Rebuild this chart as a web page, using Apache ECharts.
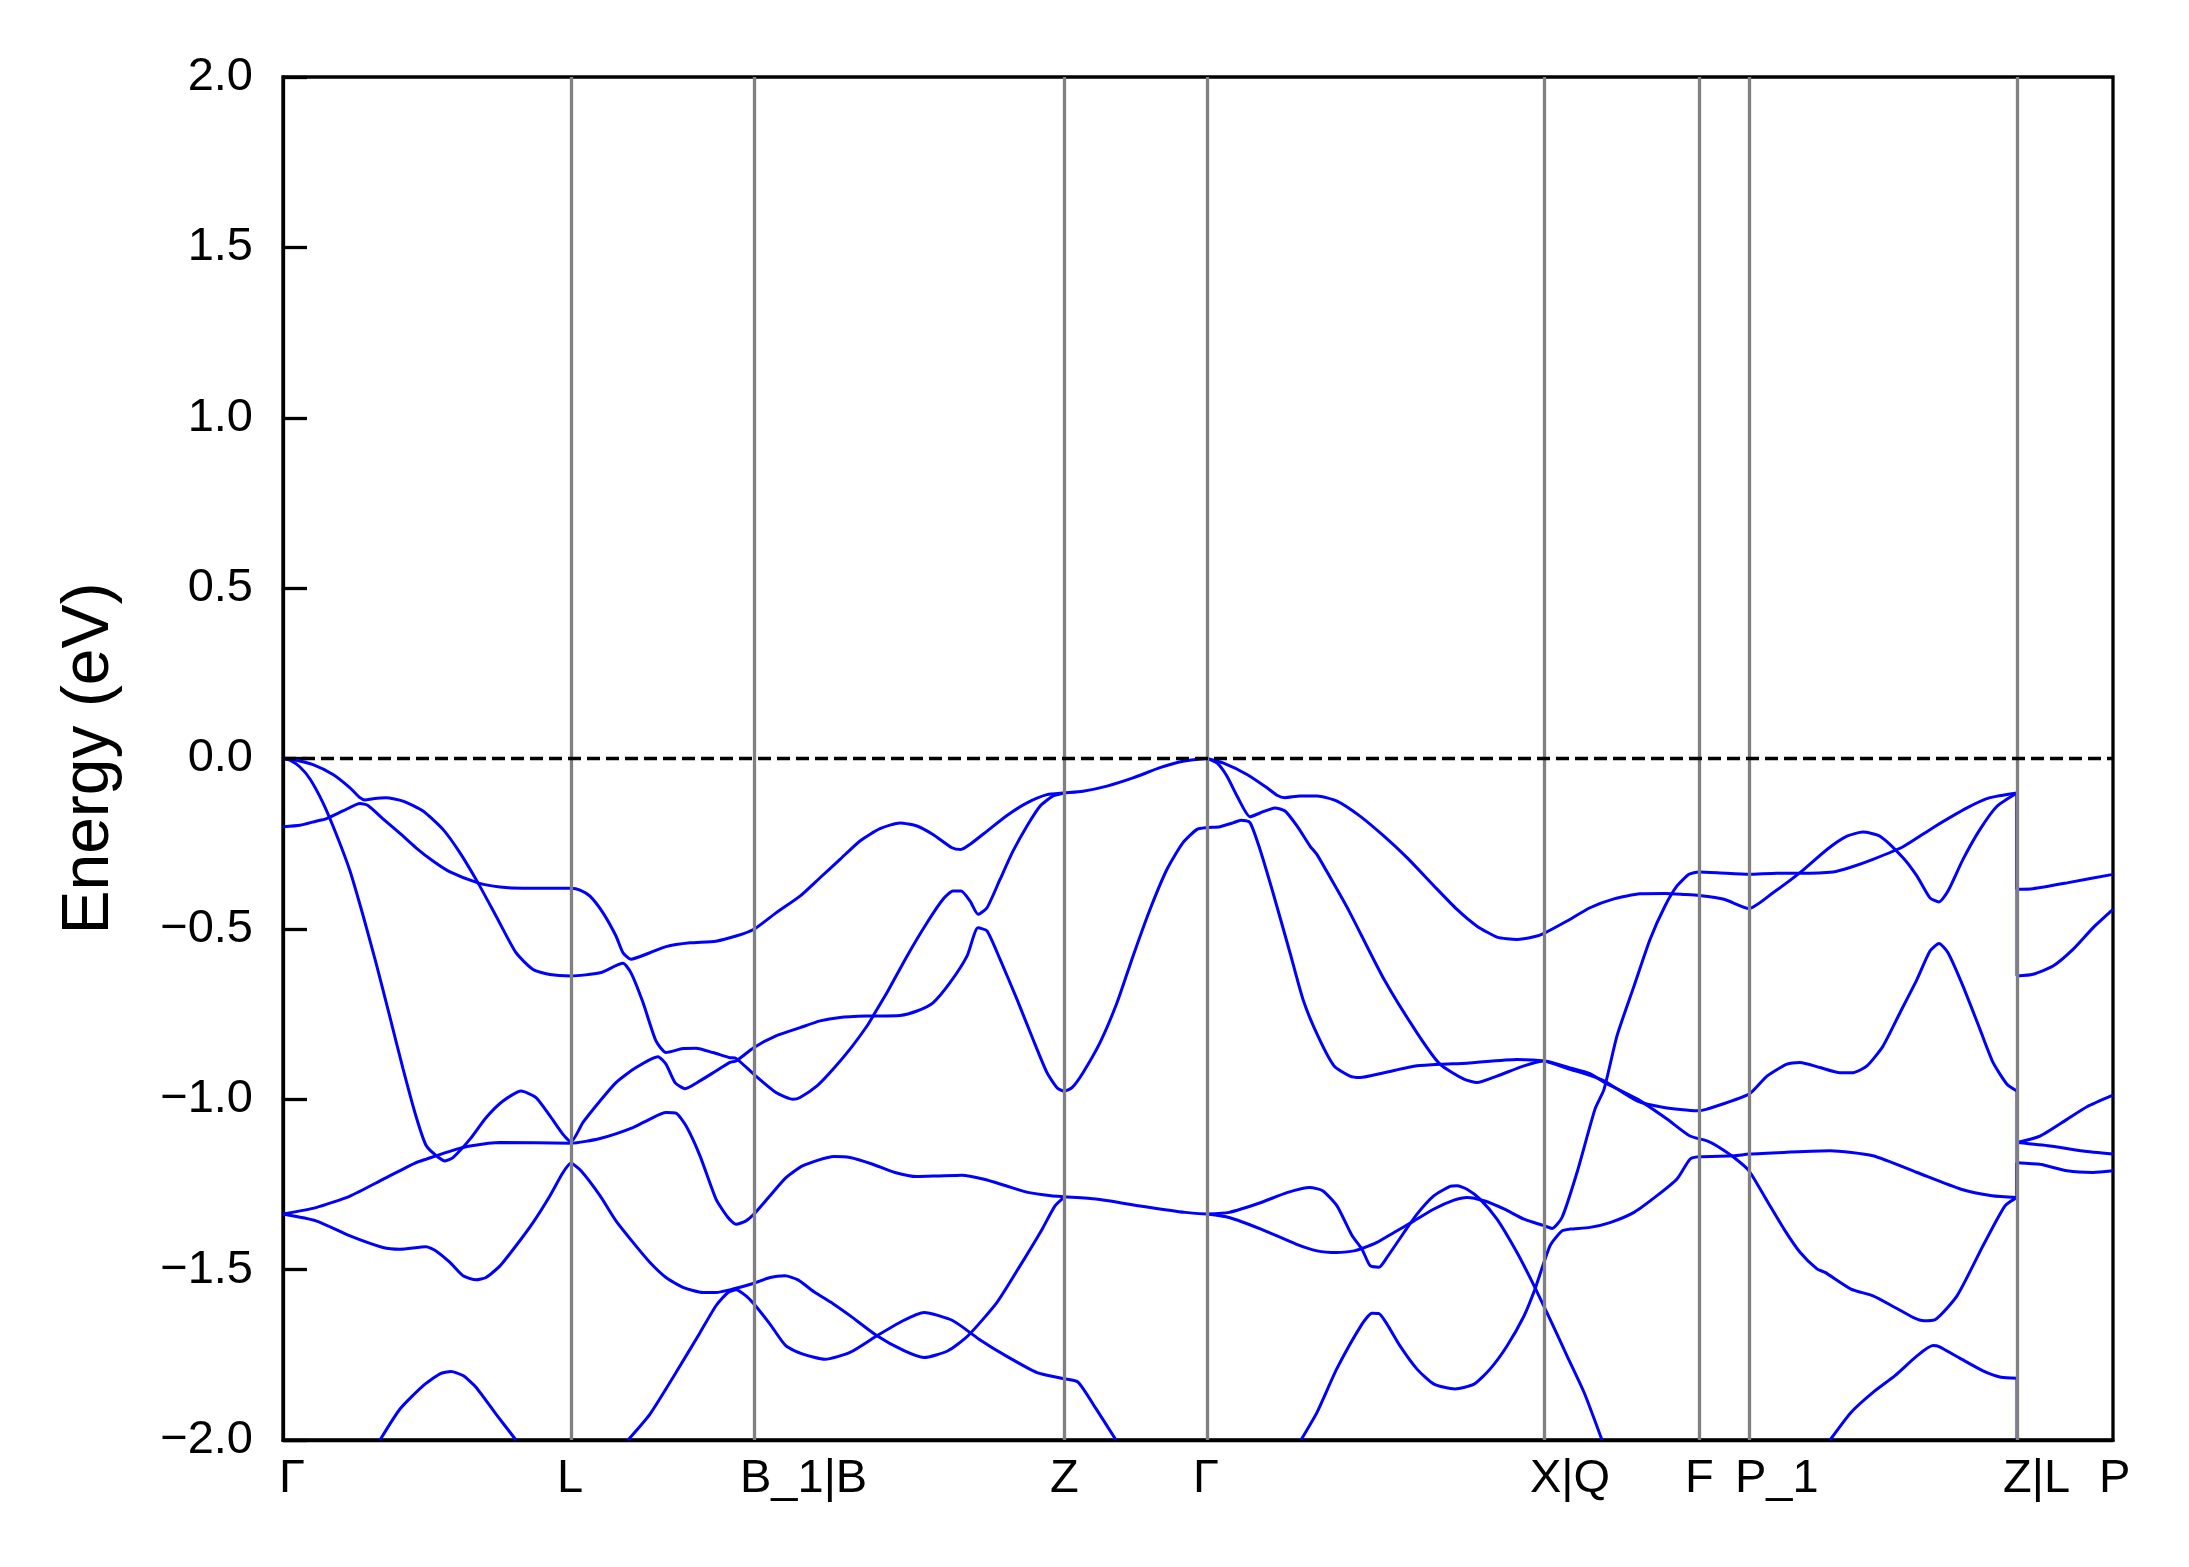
<!DOCTYPE html>
<html>
<head>
<meta charset="utf-8">
<script src="https://cdn.jsdelivr.net/npm/echarts/dist/echarts.min.js"></script>
<style>
html,body{margin:0;padding:0;background:#fff;}
#chart{width:2189px;height:1567px;}
</style>
</head>
<body>
<div id="chart"></div>
<script>
// k-path high-symmetry positions (arbitrary path-length units) and labels
const kTicks = [0, 288, 471, 781, 924, 1261, 1416, 1466, 1734, 1830];
const kLabels = ['Γ', 'L', 'B_1|B', 'Z', 'Γ', 'X|Q', 'F', 'P_1', 'Z|L', 'P'];
const yTickValues = [-2, -1.5, -1, -0.5, 0, 0.5, 1, 1.5, 2];

// bands: [k, E(eV)]
const band1 = [[0,0],[10,-0.003],[30,-0.018],[50,-0.047],[67,-0.086],[77,-0.115],[82,-0.122],[90,-0.118],[103,-0.115],[120,-0.125],[140,-0.154],[160,-0.208],[177,-0.277],[195,-0.365],[213,-0.462],[233,-0.570],[250,-0.619],[267,-0.634],[288,-0.638],[317,-0.629],[340,-0.601],[348,-0.629],[360,-0.716],[373,-0.829],[383,-0.863],[400,-0.851],[413,-0.850],[430,-0.863],[447,-0.878],[453,-0.880],[471,-0.927],[493,-0.980],[510,-1.000],[517,-0.995],[534,-0.961],[550,-0.912],[567,-0.853],[584,-0.785],[590,-0.756],[604,-0.687],[624,-0.580],[644,-0.482],[660,-0.413],[670,-0.389],[678,-0.389],[687,-0.418],[695,-0.457],[704,-0.438],[717,-0.355],[730,-0.272],[744,-0.198],[757,-0.140],[770,-0.110],[781,-0.101]];
const band2 = [[0,-0.200],[17,-0.196],[33,-0.184],[43,-0.177],[60,-0.154],[77,-0.132],[85,-0.138],[100,-0.177],[117,-0.220],[133,-0.262],[150,-0.301],[167,-0.333],[195,-0.365],[217,-0.377],[240,-0.381],[288,-0.381],[297,-0.386],[307,-0.404],[320,-0.453],[333,-0.521],[340,-0.570],[348,-0.589],[367,-0.570],[383,-0.552],[407,-0.541],[433,-0.536],[453,-0.521],[471,-0.501],[493,-0.453],[517,-0.404],[537,-0.350],[557,-0.296],[577,-0.242],[597,-0.206],[617,-0.189],[634,-0.198],[650,-0.223],[669,-0.262],[678,-0.267],[687,-0.252],[704,-0.213],[724,-0.167],[744,-0.130],[764,-0.106],[781,-0.101],[800,-0.096],[824,-0.081],[850,-0.057],[877,-0.027],[900,-0.008],[924,0]];
const band3 = [[0,0],[7,-0.005],[17,-0.025],[27,-0.06],[40,-0.13],[53,-0.22],[67,-0.33],[80,-0.46],[93,-0.60],[107,-0.76],[120,-0.91],[133,-1.05],[143,-1.135],[153,-1.165],[162,-1.181],[170,-1.171],[187,-1.117],[203,-1.054],[220,-1.005],[238,-0.976],[253,-0.995],[267,-1.049],[280,-1.103],[288,-1.125],[300,-1.068],[317,-1.005],[333,-0.951],[353,-0.907],[375,-0.875],[383,-0.897],[392,-0.951],[402,-0.969],[417,-0.946],[433,-0.917],[447,-0.892],[453,-0.888],[471,-0.848],[493,-0.814],[517,-0.790],[537,-0.770],[557,-0.760],[584,-0.756],[617,-0.754],[634,-0.741],[650,-0.717],[667,-0.658],[684,-0.580],[695,-0.497],[704,-0.506],[717,-0.589],[734,-0.707],[750,-0.824],[764,-0.922],[774,-0.966],[781,-0.976],[789,-0.966],[800,-0.922],[817,-0.834],[834,-0.717],[850,-0.580],[867,-0.443],[884,-0.325],[900,-0.247],[914,-0.208],[924,-0.203],[937,-0.200],[950,-0.189],[958,-0.181],[967,-0.188],[977,-0.267],[990,-0.394],[1007,-0.570],[1020,-0.707],[1035,-0.815],[1051,-0.902],[1067,-0.932],[1077,-0.936],[1101,-0.922],[1134,-0.902],[1157,-0.897],[1184,-0.894],[1234,-0.883],[1261,-0.888],[1287,-0.912],[1307,-0.930],[1321,-0.946],[1354,-1.005],[1381,-1.024],[1414,-1.034],[1424,-1.029],[1466,-0.985],[1484,-0.932],[1504,-0.897],[1517,-0.892],[1537,-0.907],[1557,-0.922],[1570,-0.922],[1584,-0.902],[1600,-0.844],[1617,-0.746],[1634,-0.648],[1647,-0.565],[1656,-0.543],[1665,-0.570],[1680,-0.668],[1697,-0.795],[1710,-0.892],[1724,-0.956],[1734,-0.976],[1734,-1.127],[1757,-1.108],[1784,-1.059],[1804,-1.022],[1830,-0.988]];
const band4 = [[924,0],[934,-0.013],[944,-0.052],[954,-0.110],[967,-0.171],[977,-0.160],[992,-0.145],[1002,-0.154],[1014,-0.198],[1027,-0.257],[1034,-0.282],[1054,-0.384],[1067,-0.453],[1101,-0.648],[1134,-0.805],[1157,-0.897],[1181,-0.941],[1194,-0.951],[1214,-0.932],[1241,-0.902],[1261,-0.888],[1287,-0.908],[1307,-0.925],[1321,-0.950],[1354,-0.999],[1384,-1.058],[1407,-1.108],[1424,-1.122],[1434,-1.137],[1451,-1.171],[1466,-1.210],[1484,-1.298],[1501,-1.381],[1517,-1.449],[1534,-1.498],[1542,-1.508],[1568,-1.557],[1590,-1.577],[1612,-1.611],[1630,-1.640],[1641,-1.650],[1652,-1.647],[1674,-1.577],[1700,-1.430],[1722,-1.313],[1734,-1.288],[1734,-1.186],[1757,-1.191],[1784,-1.210],[1810,-1.215],[1830,-1.210]];
const band5 = [[924,0],[940,-0.013],[964,-0.047],[984,-0.086],[994,-0.108],[1002,-0.115],[1017,-0.110],[1034,-0.110],[1054,-0.125],[1077,-0.169],[1101,-0.228],[1124,-0.291],[1151,-0.374],[1174,-0.443],[1194,-0.492],[1214,-0.524],[1234,-0.531],[1251,-0.523],[1261,-0.513],[1284,-0.477],[1307,-0.438],[1331,-0.412],[1357,-0.397],[1382,-0.396],[1401,-0.399],[1416,-0.402],[1441,-0.413],[1466,-0.440],[1490,-0.394],[1517,-0.335],[1544,-0.267],[1564,-0.228],[1580,-0.216],[1597,-0.228],[1620,-0.291],[1634,-0.345],[1647,-0.409],[1656,-0.421],[1665,-0.389],[1680,-0.296],[1697,-0.208],[1714,-0.140],[1734,-0.101],[1734,-0.638],[1750,-0.633],[1770,-0.609],[1790,-0.560],[1810,-0.497],[1830,-0.443]];
const band6 = [[924,-1.337],[946,-1.347],[978,-1.381],[1013,-1.425],[1034,-1.445],[1054,-1.450],[1071,-1.445],[1079,-1.438],[1094,-1.420],[1111,-1.391],[1131,-1.357],[1151,-1.322],[1171,-1.296],[1184,-1.288],[1201,-1.298],[1221,-1.322],[1241,-1.352],[1261,-1.371],[1269,-1.379],[1279,-1.347],[1294,-1.215],[1312,-1.029],[1321,-0.971],[1334,-0.814],[1351,-0.668],[1367,-0.531],[1382,-0.433],[1394,-0.374],[1406,-0.340],[1416,-0.333],[1434,-0.335],[1466,-0.340],[1494,-0.337],[1517,-0.337],[1550,-0.333],[1567,-0.320],[1590,-0.296],[1620,-0.259],[1650,-0.203],[1684,-0.145],[1707,-0.115],[1734,-0.101],[1734,-0.384],[1750,-0.382],[1784,-0.365],[1830,-0.340]];
const band7 = [[924,-1.337],[946,-1.332],[978,-1.303],[1004,-1.274],[1027,-1.259],[1040,-1.269],[1054,-1.313],[1069,-1.400],[1079,-1.440],[1087,-1.488],[1096,-1.493],[1104,-1.464],[1121,-1.391],[1134,-1.337],[1151,-1.283],[1167,-1.256],[1174,-1.254],[1184,-1.264],[1197,-1.293],[1214,-1.352],[1234,-1.450],[1251,-1.547],[1267,-1.645],[1284,-1.753],[1301,-1.860],[1319,-2.0]];
const band8 = [[1018,-2.0],[1034,-1.919],[1054,-1.79],[1079,-1.660],[1089,-1.628],[1096,-1.629],[1104,-1.660],[1117,-1.724],[1134,-1.792],[1151,-1.836],[1172,-1.850],[1191,-1.836],[1207,-1.792],[1224,-1.724],[1241,-1.636],[1252,-1.557],[1267,-1.430],[1279,-1.386],[1287,-1.381],[1307,-1.376],[1327,-1.362],[1351,-1.332],[1374,-1.283],[1394,-1.234],[1407,-1.176],[1416,-1.169],[1451,-1.166],[1466,-1.161],[1501,-1.156],[1547,-1.151],[1590,-1.166],[1634,-1.215],[1678,-1.264],[1709,-1.283],[1734,-1.288],[1734,-1.127],[1767,-1.137],[1800,-1.152],[1830,-1.161]];
const band9 = [[0,-1.337],[33,-1.318],[67,-1.284],[100,-1.235],[133,-1.186],[143,-1.176],[153,-1.166],[173,-1.147],[187,-1.137],[217,-1.127],[288,-1.129],[317,-1.115],[350,-1.083],[367,-1.058],[383,-1.039],[393,-1.041],[403,-1.078],[417,-1.166],[433,-1.293],[445,-1.347],[453,-1.367],[463,-1.357],[471,-1.337],[487,-1.283],[503,-1.230],[520,-1.195],[551,-1.168],[567,-1.171],[589,-1.190],[612,-1.215],[634,-1.227],[656,-1.225],[679,-1.223],[701,-1.235],[723,-1.254],[746,-1.274],[768,-1.283],[781,-1.286],[813,-1.293],[857,-1.313],[902,-1.332],[924,-1.337]];
const band10 = [[0,-1.337],[33,-1.357],[67,-1.401],[100,-1.435],[117,-1.440],[143,-1.433],[153,-1.445],[167,-1.479],[180,-1.518],[193,-1.530],[203,-1.523],[217,-1.489],[233,-1.430],[250,-1.362],[267,-1.283],[280,-1.215],[288,-1.188],[298,-1.210],[317,-1.283],[333,-1.357],[350,-1.420],[367,-1.479],[383,-1.523],[400,-1.552],[420,-1.567],[433,-1.567],[450,-1.557],[471,-1.540],[487,-1.523],[502,-1.518],[515,-1.530],[531,-1.565],[550,-1.600],[567,-1.635],[594,-1.694],[621,-1.738],[641,-1.758],[665,-1.738],[685,-1.694],[714,-1.596],[737,-1.489],[759,-1.382],[772,-1.313],[781,-1.288]];
const band11 = [[97,-2.0],[117,-1.909],[140,-1.841],[157,-1.806],[168,-1.799],[180,-1.811],[193,-1.845],[213,-1.924],[233,-2.0]];
const band12 = [[345,-2.0],[367,-1.924],[393,-1.802],[417,-1.685],[433,-1.606],[445,-1.567],[453,-1.559],[463,-1.577],[471,-1.601],[487,-1.660],[503,-1.724],[520,-1.748],[542,-1.763],[567,-1.743],[594,-1.694],[620,-1.650],[641,-1.626],[670,-1.650],[696,-1.704],[723,-1.753],[754,-1.802],[781,-1.820],[795,-1.830],[813,-1.908],[833,-2.0]];
const band13 = [[1547,-2.0],[1568,-1.919],[1590,-1.860],[1612,-1.811],[1634,-1.753],[1650,-1.723],[1656,-1.726],[1678,-1.762],[1700,-1.797],[1718,-1.816],[1734,-1.819],[1734,-2.0]];

const bands = [band1, band2, band3, band4, band5, band6, band7, band8, band9, band10, band11, band12, band13];

// split each band where k repeats (path discontinuity) so the jump stays a straight vertical
function splitBand(b) {
  const pieces = [];
  let cur = [b[0]];
  for (let i = 1; i < b.length; i++) {
    if (b[i][0] === b[i - 1][0]) {
      if (cur.length > 1) pieces.push({pts: cur, smooth: true});
      pieces.push({pts: [b[i - 1], b[i]], smooth: false});
      cur = [b[i]];
    } else {
      cur.push(b[i]);
    }
  }
  if (cur.length > 1) pieces.push({pts: cur, smooth: true});
  return pieces;
}

const chart = echarts.init(document.getElementById('chart'), null, {renderer: 'canvas'});
const FONT = "'Liberation Sans', Arial, sans-serif";
const AXW = 3.3;

const series = [];
bands.forEach(b => {
  splitBand(b).forEach(p => {
    series.push({
      type: 'line',
      data: p.pts,
      showSymbol: false,
      symbol: 'none',
      smooth: p.smooth ? 0.2 : false,
      lineStyle: {color: '#0000ff', width: 3},
      z: 3,
      silent: true,
      animation: false
    });
  });
});

// high-symmetry vertical lines (interior ticks)
series.push({
  type: 'line', data: [], silent: true, animation: false, z: 1,
  markLine: {
    silent: true, symbol: 'none', animation: false,
    label: {show: false},
    lineStyle: {color: '#808080', width: AXW, type: 'solid'},
    data: kTicks.slice(1, -1).map(v => ({xAxis: v}))
  }
});
// Fermi level
series.push({
  type: 'line', data: [], silent: true, animation: false, z: 5,
  markLine: {
    silent: true, symbol: 'none', animation: false,
    label: {show: false},
    lineStyle: {color: '#000000', width: AXW, type: [13, 6]},
    data: [{yAxis: 0}]
  }
});

const fmtY = v => (v < 0 ? '\u2212' : '') + Math.abs(v).toFixed(1);

chart.setOption({
  animation: false,
  backgroundColor: '#ffffff',
  grid: {left: 283, right: 76, top: 77, bottom: 127, show: true, borderColor: '#000', borderWidth: AXW, backgroundColor: 'transparent'},
  xAxis: {
    type: 'value', min: 0, max: 1830,
    axisLine: {show: true, onZero: false, lineStyle: {color: '#000', width: AXW}},
    axisTick: {show: false},
    splitLine: {show: false},
    axisLabel: {
      customValues: kTicks,
      formatter: v => {
        const i = kTicks.indexOf(v);
        if (i < 0) return '';
        return i === 0 ? '{first|' + kLabels[i] + '}' : kLabels[i];
      },
      color: '#000', fontFamily: FONT, fontSize: 47, margin: 16,
      align: 'left', padding: [0, 0, 0, -14],
      rich: {first: {color: '#000', fontFamily: FONT, fontSize: 47, padding: [0, 0, 0, 10]}}
    }
  },
  yAxis: {
    type: 'value', min: -2, max: 2, interval: 0.5,
    name: 'Energy (eV)', nameLocation: 'middle', nameGap: 160,
    nameTextStyle: {color: '#000', fontFamily: FONT, fontSize: 66},
    axisLine: {show: true, onZero: false, lineStyle: {color: '#000', width: AXW}},
    axisTick: {show: true, inside: true, length: 24, lineStyle: {color: '#000', width: AXW}},
    splitLine: {show: false},
    axisLabel: {color: '#000', fontFamily: FONT, fontSize: 47, margin: 30, formatter: fmtY}
  },
  series: series
});
</script>
</body>
</html>
